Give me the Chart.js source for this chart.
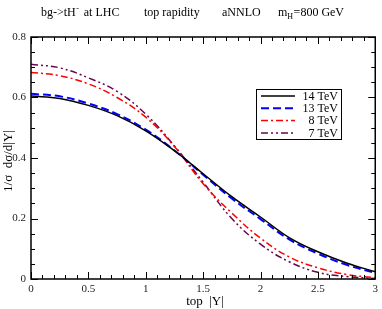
<!DOCTYPE html>
<html>
<head>
<meta charset="utf-8">
<script src="https://cdn.jsdelivr.net/npm/chart.js@4"></script>
<style>
  body { margin: 0; background: #fff; }
  #wrap { width: 382px; height: 309px; }
</style>
</head>
<body>
<div id="wrap"><canvas id="rapChart" width="382" height="309"></canvas></div>
<script>
// top |Y| values
const absY = [0, 0.25, 0.5, 0.75, 1.0, 1.25, 1.5, 1.75, 2.0, 2.25, 2.5, 2.75, 3.0];
// normalized distributions 1/sigma dsigma/d|Y|
const tev14 = [0.605, 0.597, 0.574, 0.540, 0.490, 0.424, 0.348, 0.272, 0.205, 0.137, 0.090, 0.053, 0.024];
const tev13 = [0.612, 0.604, 0.580, 0.545, 0.494, 0.425, 0.345, 0.266, 0.198, 0.131, 0.084, 0.047, 0.020];
const tev8  = [0.683, 0.672, 0.645, 0.600, 0.535, 0.438, 0.315, 0.218, 0.135, 0.073, 0.037, 0.015, 0.004];
const tev7  = [0.710, 0.698, 0.665, 0.620, 0.545, 0.440, 0.320, 0.200, 0.115, 0.057, 0.022, 0.008, 0.002];
const seriesNames = ['14 TeV', '13 TeV', '8 TeV', '7 TeV'];
const xTicks = [0, 0.5, 1, 1.5, 2, 2.5, 3];
const yTicks = [0, 0.2, 0.4, 0.6, 0.8];

const serif = '"Liberation Serif", "DejaVu Serif", serif';

const pts = arr => absY.map((x, i) => ({ x: x, y: arr[i] }));

// frame, inward ticks on all four sides, titles and legend
const decor = {
  id: 'decor',
  afterDraw(chart) {
    const { ctx, chartArea: a, scales: { x, y } } = chart;
    ctx.save();
    ctx.strokeStyle = '#000';
    ctx.lineWidth = 1;
    for (let i = 0; i <= 30; i++) {
      const v = i / 10;
      const len = i % 5 === 0 ? 7 : 4;
      const px = Math.round(x.getPixelForValue(v)) + 0.5;
      ctx.beginPath();
      ctx.moveTo(px, a.bottom); ctx.lineTo(px, a.bottom - len);
      ctx.moveTo(px, a.top); ctx.lineTo(px, a.top + len);
      ctx.stroke();
    }
    for (let i = 0; i <= 16; i++) {
      const v = i * 0.05;
      const len = i % 4 === 0 ? 7 : 4;
      const py = Math.round(y.getPixelForValue(v)) + 0.5;
      ctx.beginPath();
      ctx.moveTo(a.left, py); ctx.lineTo(a.left + len, py);
      ctx.moveTo(a.right, py); ctx.lineTo(a.right - len, py);
      ctx.stroke();
    }
    ctx.lineWidth = 1.5;
    ctx.strokeRect(a.left, a.top, a.right - a.left, a.bottom - a.top);

    // title
    ctx.fillStyle = '#000';
    ctx.textBaseline = 'alphabetic';
    ctx.textAlign = 'left';
    ctx.font = '12px ' + serif;
    ctx.fillText('bg->tH', 41, 16);
    let w = ctx.measureText('bg->tH').width;
    ctx.font = '8px ' + serif;
    ctx.fillText('-', 41 + w + 0.5, 11);
    ctx.font = '12px ' + serif;
    ctx.fillText('at LHC', 41 + w + 8, 16);
    ctx.fillText('top rapidity', 144, 16);
    ctx.fillText('aNNLO', 222, 16);
    ctx.fillText('m', 278, 16);
    const mw = ctx.measureText('m').width;
    ctx.font = '8px ' + serif;
    ctx.fillText('H', 278 + mw, 19);
    const hw = ctx.measureText('H').width;
    ctx.font = '12px ' + serif;
    ctx.fillText('=800 GeV', 278 + mw + hw + 0.5, 16);

    // axis titles
    ctx.font = '13px ' + serif;
    ctx.textAlign = 'center';
    ctx.fillText('top  |Y|', 205, 305);
    ctx.save();
    ctx.translate(12, (a.top + a.bottom) / 2 + 3);
    ctx.rotate(-Math.PI / 2);
    ctx.fillText('1/\u03c3  d\u03c3/d|Y|', 0, 0);
    ctx.restore();

    // legend
    const lx = 256.5, ly = 89.5, lw = 85, lh = 50;
    ctx.fillStyle = '#fff';
    ctx.fillRect(lx, ly, lw, lh);
    ctx.lineWidth = 1;
    ctx.strokeStyle = '#000';
    ctx.strokeRect(lx, ly, lw, lh);
    ctx.font = '12px ' + serif;
    ctx.textAlign = 'right';
    ctx.textBaseline = 'middle';
    chart.data.datasets.forEach((ds, i) => {
      const ry = 96 + i * 12.3;
      ctx.beginPath();
      ctx.strokeStyle = ds.borderColor;
      ctx.lineWidth = ds.borderWidth;
      ctx.setLineDash(ds.borderDash || []);
      ctx.moveTo(261, ry); ctx.lineTo(295, ry);
      ctx.stroke();
      ctx.setLineDash([]);
      ctx.fillStyle = '#000';
      ctx.fillText(ds.label, 338, ry + 0.5);
    });
    ctx.restore();
  }
};

new Chart(document.getElementById('rapChart'), {
  type: 'line',
  data: {
    datasets: [
      { label: seriesNames[0], data: pts(tev14), borderColor: '#000000', borderWidth: 1.5, borderDash: [] },
      { label: seriesNames[1], data: pts(tev13), borderColor: '#0000ff', borderWidth: 2, borderDash: [8, 4] },
      { label: seriesNames[2], data: pts(tev8), borderColor: '#ff0000', borderWidth: 1.5, borderDash: [7, 3, 2, 3] },
      { label: seriesNames[3], data: pts(tev7), borderColor: '#67074a', borderWidth: 1.5, borderDash: [7, 3, 2, 3, 2, 3] }
    ]
  },
  options: {
    responsive: false,
    animation: false,
    layout: { padding: { top: 37, right: 4, left: 0, bottom: 0 } },
    elements: {
      point: { radius: 0 },
      line: { tension: 0.4, fill: false }
    },
    plugins: { legend: { display: false }, tooltip: { enabled: false }, title: { display: false } },
    scales: {
      x: {
        type: 'linear', min: 0, max: 3,
        grid: { display: false, drawTicks: false, tickLength: 0 }, border: { display: false },
        afterFit: s => { s.height = 30; },
        afterBuildTicks: s => { s.ticks = xTicks.map(v => ({ value: v })); },
        ticks: {
          padding: 4, maxRotation: 0, color: '#222',
          font: { family: serif, size: 11 },
          callback: v => String(v)
        }
      },
      y: {
        min: 0, max: 0.8,
        grid: { display: false, drawTicks: false, tickLength: 0 }, border: { display: false },
        afterFit: s => { s.width = 31; },
        afterBuildTicks: s => { s.ticks = yTicks.map(v => ({ value: v })); },
        ticks: {
          padding: 5, color: '#222',
          font: { family: serif, size: 11 },
          callback: v => (v === 0 ? '0' : v.toFixed(1))
        }
      }
    }
  },
  plugins: [decor]
});
</script>
</body>
</html>
